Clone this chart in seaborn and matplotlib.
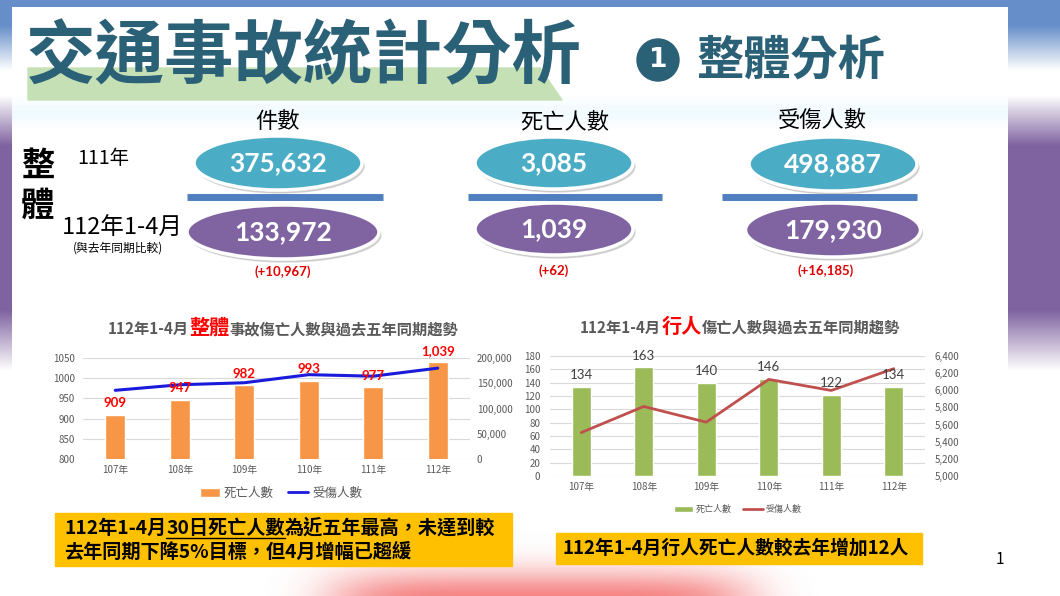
import numpy as np
import matplotlib
matplotlib.use('Agg')
import matplotlib.pyplot as plt
import seaborn as sns
from matplotlib.patches import Ellipse, Polygon, Circle, Patch, Rectangle
from matplotlib.lines import Line2D
from matplotlib.ticker import FuncFormatter, MultipleLocator

sns.set_theme(style='white')
plt.rcParams['font.family'] = ['Noto Sans CJK TC', 'DejaVu Sans']

# chart data
years = ['107年', '108年', '109年', '110年', '111年', '112年']
all_deaths = [909, 947, 982, 993, 977, 1039]
all_injuries = [136000, 147000, 151000, 167000, 164000, 179930]
ped_deaths = [134, 163, 140, 146, 122, 134]
ped_injuries = [5507, 5811, 5628, 6127, 5998, 6252]

# summary numbers
stat_headers = ['件數', '死亡人數', '受傷人數']
stat_111 = ['375,632', '3,085', '498,887']
stat_112 = ['133,972', '1,039', '179,930']
stat_diff = ['(+10,967)', '(+62)', '(+16,185)']

W, H = 1060, 596
fig = plt.figure(figsize=(W / 100, H / 100), dpi=100)
bg = fig.add_axes([0, 0, 1, 1])
bg.set_xlim(0, W)
bg.set_ylim(H, 0)
bg.axis('off')

num_font = ['Lato', 'Noto Sans CJK TC']


def pix_rect(x0, y0, x1, y1):
    return [x0 / W, 1 - y1 / H, (x1 - x0) / W, (y1 - y0) / H]


# slide background: blue top, purple side bands
img = np.ones((H, W, 3))
ys = np.arange(H)[:, None]
blue = np.array([0.40, 0.56, 0.79])
purple = np.array([0.50, 0.39, 0.63])
w_blue = np.clip(1 - (ys - 25) / 45, 0, 1)
w_purp = np.clip((ys - 95) / 50, 0, 1) * np.clip((370 - ys) / 60, 0, 1)
side = (1 - w_blue - w_purp) * 1.0 + w_blue * blue + w_purp * purple
img[:, :12, :] = side[:, None, :]
img[:, 1008:, :] = side[:, None, :]
img[:7, :, :] = blue
# faint cyan haze under the title
haze = np.clip(1 - np.abs(ys - 112) / 18, 0, 1) * 0.06
img[7:, 12:1008, 0] -= haze[7:]
img[7:, 12:1008, 1] -= haze[7:] * 0.3
bg.imshow(img, extent=(0, W, H, 0), aspect='auto', zorder=0)

# pink blur at the bottom
gx, gy = np.meshgrid(np.arange(W), np.arange(H))
blob = np.exp(-(((gx - 540) / 210) ** 6) - (((gy - 600) / 30) ** 2))
pink = np.zeros((H, W, 4))
pink[..., 0] = 0.96
pink[..., 1] = 0.42
pink[..., 2] = 0.42
pink[..., 3] = blob * 0.85
bg.imshow(pink, extent=(0, W, H, 0), aspect='auto', zorder=0.5)

# header
bg.add_patch(Polygon([(28, 68), (540, 68), (562, 100), (28, 100)],
                     closed=True, color='#c6e0b5', zorder=1))
bg.text(26, 58, '交通事故統計分析', fontsize=50, fontweight='black',
        color='#2b6177', va='center', ha='left', zorder=2)
bg.add_patch(Circle((658, 60), 21, color='#2b6177', zorder=2))
bg.text(658, 60, '1', fontsize=19, fontweight='bold', color='white',
        ha='center', va='center', family='DejaVu Sans', zorder=3)
bg.text(697, 61, '整體分析', fontsize=34, fontweight='black',
        color='#2b6177', va='center', ha='left', zorder=2)

# summary block
bg.text(38, 166, '整', fontsize=24, fontweight='black', ha='center', va='center', color='black')
bg.text(38, 206, '體', fontsize=24, fontweight='black', ha='center', va='center', color='black')
bg.text(77, 158, '111年', fontsize=14, ha='left', va='center', color='black')
bg.text(62, 228, '112年1-4月', fontsize=17, ha='left', va='center', color='black')
bg.text(118, 248, '(與去年同期比較)', fontsize=8.5, ha='center', va='center', color='black')

head_pos = [(278, 122), (565, 122), (822, 120)]
top_ell = [(278, 163, 168, 54), (554, 163, 158, 52), (833, 164, 168, 54)]
bot_ell = [(283, 232, 192, 54), (554, 229, 158, 52), (833, 230, 175, 54)]
dividers = [(187, 383), (468, 662), (722, 917)]
diff_pos = [(283, 272), (554, 271), (826, 271)]

for i in range(3):
    bg.text(*head_pos[i], stat_headers[i], fontsize=16, ha='center', va='center', color='black')
    for (cx, cy, ew, eh), val, col in [(top_ell[i], stat_111[i], '#4bacc6'),
                                       (bot_ell[i], stat_112[i], '#8064a2')]:
        bg.add_patch(Ellipse((cx + 2, cy + 3), ew, eh, color='#9a9a9a', alpha=0.35, zorder=2))
        bg.add_patch(Ellipse((cx, cy), ew, eh, facecolor=col, edgecolor='white', lw=2.5, zorder=3))
        bg.text(cx, cy, val, fontsize=19, fontweight='bold', color='white',
                ha='center', va='center', family=num_font, zorder=4)
    x0, x1 = dividers[i]
    bg.plot([x0, x1], [197, 197], color='#4f7fbf', lw=5, solid_capstyle='butt', zorder=2)
    bg.text(*diff_pos[i], stat_diff[i], fontsize=9.5, fontweight='bold', color='#e00000',
            ha='center', va='center', family=num_font)


def rich(x, y, parts, ha='center', weight='bold'):
    r = fig.canvas.get_renderer()
    items = []
    for s, size, color in parts:
        t = bg.text(0, y, s, fontsize=size, color=color, fontweight=weight,
                    va='baseline', ha='left', zorder=5)
        items.append((t, t.get_window_extent(r).width))
    total = sum(w for _, w in items)
    start = x - total / 2 if ha == 'center' else x
    ext = []
    for t, w in items:
        t.set_x(start)
        ext.append((start, start + w))
        start += w
    return ext


gray = '#595959'
thou = FuncFormatter(lambda v, p: f'{v:,.0f}')

# left chart: all accidents
rich(283, 334, [('112年1-4月', 11, gray), ('整體', 14.5, '#ff0000'),
                ('事故傷亡人數與過去五年同期趨勢', 11, gray)])
ax1 = fig.add_axes(pix_rect(83, 358, 470, 459))
sns.barplot(x=years, y=all_deaths, color='#f79646', saturation=1, width=0.31, ax=ax1)
ax1.set_ylim(800, 1050)
ax1.yaxis.set_major_locator(MultipleLocator(50))
ax1.set_xlim(-0.5, 5.5)
ax1b = ax1.twinx()
sns.lineplot(x=np.arange(6), y=all_injuries, color='#1a1adb', lw=2.2, ax=ax1b)
ax1b.set_ylim(0, 200000)
ax1b.yaxis.set_major_locator(MultipleLocator(50000))
ax1b.yaxis.set_major_formatter(thou)
for i, v in enumerate(all_deaths):
    ax1b.annotate(f'{v:,}', (i, v), xycoords=ax1.transData, xytext=(0, 4),
                  textcoords='offset points', ha='center', va='bottom',
                  fontsize=9.5, fontweight='bold', color='#ff0000', family=num_font)
ax1.legend(handles=[Patch(facecolor='#f79646', label='死亡人數'),
                    Line2D([], [], color='#1a1adb', lw=2, label='受傷人數')],
           loc='center', bbox_to_anchor=(0.511, -0.34), ncol=2, frameon=False,
           fontsize=9, labelcolor=gray, handlelength=1.6, columnspacing=1.2,
           handletextpad=0.3)

# right chart: pedestrians
rich(740, 333, [('112年1-4月', 11, gray), ('行人', 14.5, '#ff0000'),
                ('傷亡人數與過去五年同期趨勢', 11, gray)])
ax2 = fig.add_axes(pix_rect(550, 356, 925, 476))
sns.barplot(x=years, y=ped_deaths, color='#9bbb59', saturation=1, width=0.31, ax=ax2)
ax2.set_ylim(0, 180)
ax2.yaxis.set_major_locator(MultipleLocator(20))
ax2.set_xlim(-0.5, 5.5)
ax2b = ax2.twinx()
sns.lineplot(x=np.arange(6), y=ped_injuries, color='#c0504d', lw=2, ax=ax2b)
ax2b.set_ylim(5000, 6400)
ax2b.yaxis.set_major_locator(MultipleLocator(200))
ax2b.yaxis.set_major_formatter(thou)
for i, v in enumerate(ped_deaths):
    ax2b.annotate(f'{v}', (i, v), xycoords=ax2.transData, xytext=(0, 4),
                  textcoords='offset points', ha='center', va='bottom',
                  fontsize=9.5, color='#404040', family=num_font)
ax2.legend(handles=[Patch(facecolor='#9bbb59', label='死亡人數'),
                    Line2D([], [], color='#c0504d', lw=2, label='受傷人數')],
           loc='center', bbox_to_anchor=(0.5, -0.28), ncol=2, frameon=False,
           fontsize=6.5, labelcolor=gray, handlelength=2.2, columnspacing=1.2,
           handletextpad=0.3)

for a, pad_l in [(ax1, 5.5), (ax2, 7)]:
    a.grid(axis='y', color='#d9d9d9', lw=0.8)
    a.set_axisbelow(True)
    a.set_xlabel('')
    a.set_ylabel('')
    a.tick_params(axis='y', length=0, labelsize=7, labelcolor=gray, pad=pad_l)
    a.tick_params(axis='x', length=0, labelsize=7, labelcolor=gray, pad=4)
    for s in a.spines.values():
        s.set_visible(False)
for a, pad_r in [(ax1b, 5), (ax2b, 7)]:
    a.set_ylabel('')
    a.tick_params(axis='y', length=0, labelsize=7, labelcolor=gray, pad=pad_r)
    for s in a.spines.values():
        s.set_visible(False)
    a.grid(False)

# bottom notes
bg.add_patch(Rectangle((55, 513), 457, 53, color='#ffc000', zorder=3))
ext = rich(64, 534, [('112年1-4月', 13.8, 'black'), ('30日死亡人數', 13.8, 'black'),
                     ('為近五年最高，未達到較', 13.8, 'black')], ha='left')
bg.plot([ext[1][0], ext[1][1]], [538, 538], color='black', lw=1, zorder=6)
rich(64, 558, [('去年同期下降5%目標，但4月增幅已趨緩', 13.8, 'black')], ha='left')

bg.add_patch(Rectangle((556, 533), 366, 31, color='#ffc000', zorder=3))
rich(563, 554, [('112年1-4月行人死亡人數較去年增加12人', 13.5, 'black')], ha='left')

bg.text(1000, 559, '1', fontsize=11, ha='center', va='center', color='black')

fig.savefig('out.png', dpi=100)
